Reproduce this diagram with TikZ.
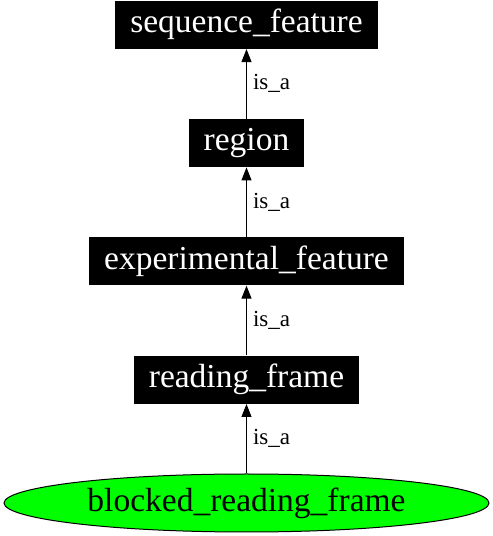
\documentclass[tikz,border=0pt]{standalone}
\usepackage{fontspec}
\setmainfont{Liberation Serif}
\usetikzlibrary{arrows.meta,positioning,shapes.geometric}
\definecolor{elenk}{RGB}{0,255,0}
\tikzset{
  fekete/.style={fill=black,text=white,inner xsep=7.5pt,inner ysep=0pt,minimum height=24pt,
                 font=\fontsize{16.75}{20}\selectfont},
  zold/.style={ellipse,draw,line width=0.5pt,fill=elenk,inner sep=0pt,minimum width=242.5pt,
               minimum height=29pt,font=\fontsize{16.75}{20}\selectfont},
  nyil/.style={-{Triangle[length=6.5pt,width=5pt]},line width=0.5pt},
  felirat/.style={font=\fontsize{11.5}{13}\selectfont,midway,right,inner xsep=3pt},
}
\begin{document}
\begin{tikzpicture}[node distance=34.75pt]
  \useasboundingbox (-123.25pt,-16.5pt) rectangle (123.25pt,251.5pt);
  \node[zold] (brf) at (0,0) {blocked\_reading\_frame};
  \node[fekete,above=of brf] (rf) {reading\_frame};
  \node[fekete,above=of rf] (ef) {experimental\_feature};
  \node[fekete,above=of ef] (reg) {region};
  \node[fekete,above=of reg] (sf) {sequence\_feature};
  \draw[nyil] (brf) -- node[felirat] {is\_a} (rf);
  \draw[nyil] (rf) -- node[felirat] {is\_a} (ef);
  \draw[nyil] (ef) -- node[felirat] {is\_a} (reg);
  \draw[nyil] (reg) -- node[felirat] {is\_a} (sf);
\end{tikzpicture}
\end{document}
